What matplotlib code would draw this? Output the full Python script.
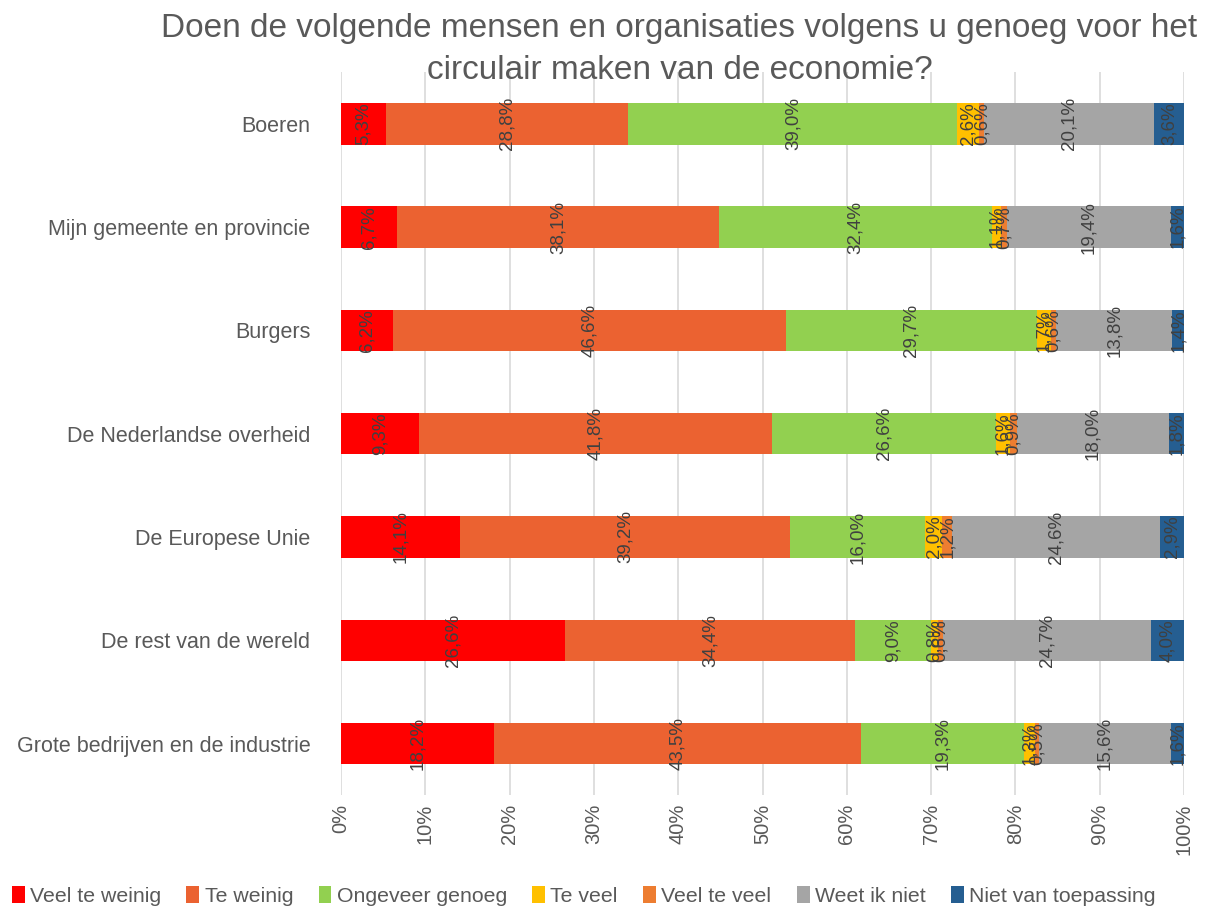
import numpy as np
import matplotlib
matplotlib.use('Agg')
import matplotlib.pyplot as plt
from matplotlib.ticker import PercentFormatter

plt.rcParams['font.family'] = ['Liberation Sans', 'DejaVu Sans']

categories = ['Boeren', 'Mijn gemeente en provincie', 'Burgers', 'De Nederlandse overheid',
              'De Europese Unie', 'De rest van de wereld', 'Grote bedrijven en de industrie']
series = ['Veel te weinig', 'Te weinig', 'Ongeveer genoeg', 'Te veel', 'Veel te veel',
          'Weet ik niet', 'Niet van toepassing']

veel_te_weinig = [5.3, 6.7, 6.2, 9.3, 14.1, 26.6, 18.2]
te_weinig = [28.8, 38.1, 46.6, 41.8, 39.2, 34.4, 43.5]
ongeveer_genoeg = [39.0, 32.4, 29.7, 26.6, 16.0, 9.0, 19.3]
te_veel = [2.6, 1.1, 1.7, 1.6, 2.0, 0.8, 1.3]
veel_te_veel = [0.6, 0.7, 0.6, 0.9, 1.2, 0.6, 0.5]
weet_ik_niet = [20.1, 19.4, 13.8, 18.0, 24.6, 24.7, 15.6]
niet_van_toepassing = [3.6, 1.6, 1.4, 1.8, 2.9, 4.0, 1.6]

colors = ['#FF0000', '#EB6231', '#92D050', '#FFC000', '#ED7D31', '#A5A5A5', '#255E91']
values = [veel_te_weinig, te_weinig, ongeveer_genoeg, te_veel, veel_te_veel,
          weet_ik_niet, niet_van_toepassing]

fig = plt.figure(figsize=(12.22, 9.14), dpi=100)
ax = fig.add_axes([0.279, 0.130, 0.690, 0.791])

y = np.arange(len(categories))
left = np.zeros(len(categories))
for name, vals, col in zip(series, values, colors):
    vals = np.array(vals)
    ax.barh(y, vals, left=left, height=0.4, color=col, label=name, zorder=3)
    for yi, l, v in zip(y, left, vals):
        ax.text(l + v / 2, yi, f'{v:.1f}%'.replace('.', ','), rotation=90,
                ha='center', va='center', fontsize=13.5, color='#404040', zorder=4)
    left += vals

ax.set_xlim(0, 100)
ax.set_ylim(6.5, -0.5)
ax.set_yticks(y)
ax.set_yticklabels(categories, fontsize=15.5, color='#595959')
ax.set_xticks(np.arange(0, 101, 10))
ax.xaxis.set_major_formatter(PercentFormatter(decimals=0))
ax.tick_params(axis='x', labelrotation=90, labelsize=14.5, labelcolor='#595959', length=0, pad=6)
ax.tick_params(axis='y', length=0, pad=22)
ax.grid(axis='x', color='#D9D9D9', linewidth=1.2, zorder=0)
for s in ax.spines.values():
    s.set_visible(False)

fig.text(0.556, 0.969, 'Doen de volgende mensen en organisaties volgens u genoeg voor het',
         ha='center', va='center', fontsize=24, color='#595959')
fig.text(0.556, 0.923, 'circulair maken van de economie?',
         ha='center', va='center', fontsize=24, color='#595959')

fig.legend(loc='lower left', bbox_to_anchor=(-0.006, -0.012), ncol=7, frameon=False, fontsize=15.3,
           handlelength=0.6, handleheight=0.9, handletextpad=0.25, columnspacing=1.2,
           labelcolor='#595959')

fig.savefig('out.png', dpi=100)
